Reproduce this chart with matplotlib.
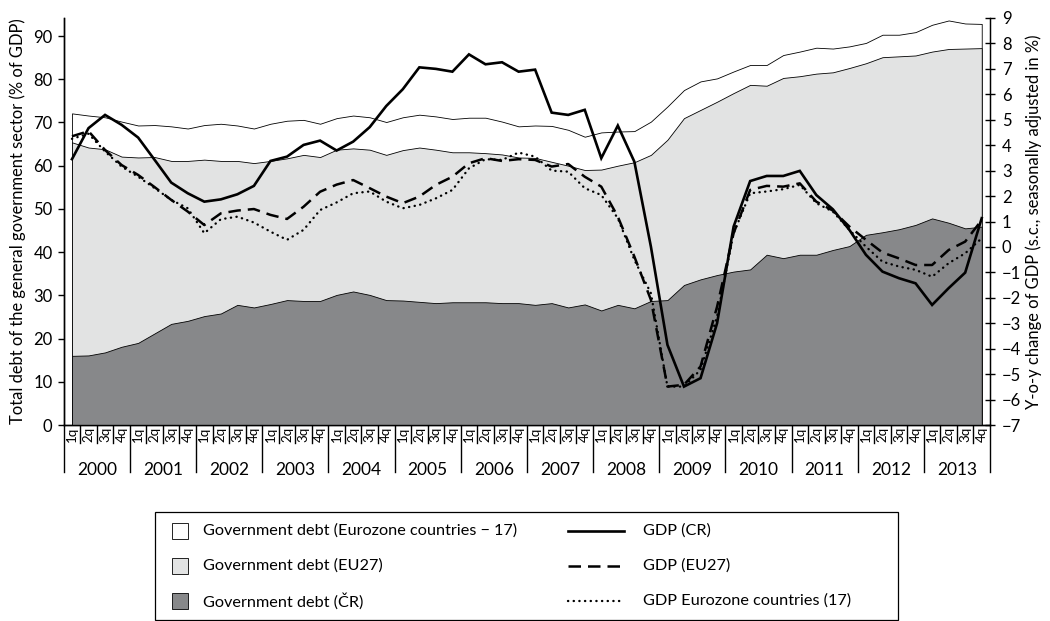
import matplotlib
matplotlib.use('Agg')
import matplotlib.pyplot as plt
from matplotlib.patches import Rectangle
import numpy as np

plt.rcParams['font.family'] = ['Lato', 'DejaVu Sans']

# ── data (2000Q1 .. 2013Q4) ──────────────────────────────────────────────────
years = [str(y) for y in range(2000, 2014)]
quarters = ['1q', '2q', '3q', '4q']

# government debt, % of GDP (left axis)
debt_ez = [72.1, 71.6, 71.2, 70.2, 69.3, 69.4, 69.1, 68.6, 69.4, 69.7, 69.3, 68.6, 69.7, 70.4, 70.6, 69.7,
           71.0, 71.6, 71.2, 70.1, 71.2, 71.8, 71.4, 70.8, 71.1, 71.1, 70.2, 69.1, 69.3, 69.2, 68.3, 66.7,
           67.7, 67.9, 68.0, 70.2, 73.7, 77.5, 79.5, 80.2, 81.8, 83.3, 83.3, 85.6, 86.4, 87.3, 87.1, 87.6,
           88.4, 90.3, 90.3, 90.9, 92.6, 93.6, 92.9, 92.8]
debt_eu = [65.4, 64.2, 63.8, 62.1, 61.9, 62.0, 61.1, 61.1, 61.4, 61.1, 61.1, 60.6, 61.1, 61.7, 62.5, 62.0,
           63.7, 64.0, 63.7, 62.5, 63.6, 64.2, 63.7, 63.1, 63.1, 62.9, 62.6, 61.9, 61.8, 60.9, 60.0, 59.0,
           59.1, 60.0, 60.8, 62.5, 66.0, 71.0, 72.9, 74.8, 76.8, 78.7, 78.5, 80.3, 80.7, 81.3, 81.6, 82.6,
           83.7, 85.1, 85.3, 85.5, 86.4, 87.0, 87.1, 87.2]
debt_cz = [16.0, 16.1, 16.8, 18.1, 19.0, 21.2, 23.4, 24.1, 25.2, 25.8, 27.8, 27.2, 28.0, 28.9, 28.7, 28.7,
           30.1, 30.9, 30.1, 28.9, 28.8, 28.5, 28.2, 28.4, 28.4, 28.4, 28.2, 28.2, 27.8, 28.2, 27.2, 27.9,
           26.5, 27.8, 27.0, 28.7, 28.9, 32.4, 33.7, 34.7, 35.5, 36.0, 39.4, 38.6, 39.4, 39.4, 40.5, 41.4,
           44.0, 44.6, 45.3, 46.3, 47.8, 46.8, 45.5, 45.9]

# y-o-y GDP change, % (right axis)
gdp_cz = [3.45, 4.67, 5.19, 4.80, 4.30, 3.42, 2.53, 2.11, 1.78, 1.87, 2.07, 2.40, 3.38, 3.55, 4.01, 4.18,
          3.79, 4.14, 4.71, 5.54, 6.20, 7.06, 7.00, 6.89, 7.57, 7.18, 7.26, 6.89, 6.97, 5.28, 5.19, 5.39,
          3.49, 4.77, 3.35, 0.01, -3.85, -5.49, -5.16, -3.00, 0.80, 2.59, 2.79, 2.79, 2.99, 2.04, 1.48, 0.67,
          -0.31, -0.97, -1.23, -1.43, -2.28, -1.62, -1.01, 1.13]
gdp_eu = [4.35, 4.55, 3.81, 3.22, 2.83, 2.35, 1.85, 1.39, 0.86, 1.32, 1.43, 1.49, 1.26, 1.10, 1.58, 2.17,
          2.45, 2.63, 2.31, 1.98, 1.72, 1.98, 2.44, 2.76, 3.29, 3.49, 3.38, 3.45, 3.42, 3.16, 3.26, 2.76,
          2.37, 1.19, -0.38, -2.08, -5.49, -5.42, -4.70, -2.35, 0.54, 2.24, 2.40, 2.37, 2.50, 1.78, 1.43, 0.80,
          0.28, -0.22, -0.45, -0.71, -0.71, -0.12, 0.21, 1.06]
gdp_ez = [4.25, 4.45, 3.75, 3.16, 2.76, 2.31, 1.85, 1.52, 0.54, 1.09, 1.19, 0.96, 0.60, 0.28, 0.67, 1.45,
          1.75, 2.11, 2.18, 1.78, 1.52, 1.65, 1.91, 2.24, 3.09, 3.45, 3.42, 3.71, 3.55, 3.00, 2.96, 2.31,
          2.04, 1.13, -0.51, -1.82, -5.49, -5.49, -4.83, -2.74, 0.54, 2.11, 2.18, 2.27, 2.44, 1.72, 1.39, 0.67,
          0.01, -0.58, -0.77, -0.90, -1.17, -0.64, -0.25, 0.34]

LEG_AREAS = ['Government debt (Eurozone countries \u2212 17)', 'Government debt (EU27)',
             'Government debt (\u010cR)']
LEG_LINES = ['GDP (CR)', 'GDP (EU27)', 'GDP Eurozone countries (17)']

# ── style ────────────────────────────────────────────────────────────────────
COL_EZ = 'white'
COL_EU = '#e2e3e3'
COL_CZ = '#87888a'
EDGE_LW = 0.6
TICK_FS = 12

x = np.arange(len(debt_cz))

fig = plt.figure(figsize=(10.5, 6.21), dpi=100)
ax = fig.add_axes([63.7 / 1050, 1 - 425 / 621, (990 - 63.7) / 1050, 407 / 621])
ax2 = ax.twinx()

# areas, drawn over one another (not stacked)
ax.fill_between(x, 0, debt_ez, facecolor=COL_EZ, edgecolor='black', lw=EDGE_LW, zorder=1)
ax.fill_between(x, 0, debt_eu, facecolor=COL_EU, edgecolor='black', lw=EDGE_LW, zorder=2)
ax.fill_between(x, 0, debt_cz, facecolor=COL_CZ, edgecolor='black', lw=EDGE_LW, zorder=3)

LINE_STYLES = [
    dict(color='black', lw=1.9, ls='-', solid_joinstyle='miter'),
    dict(color='black', lw=1.8, ls=(0, (5.0, 2.8))),
    dict(color='black', lw=1.7, ls=(0, (0.1, 2.3)), dash_capstyle='round'),
]
for vals, st in zip([gdp_cz, gdp_eu, gdp_ez], LINE_STYLES):
    ax2.plot(x, vals, zorder=5, **st)

ax.set_xlim(-0.5, len(x) - 0.5)
ax.set_ylim(0, 407 / 4.322)
ax.set_yticks(range(0, 100, 10))
ax2.set_ylim(-7, 9)
ax2.set_yticks(range(-7, 10))

ax.set_xticks([])
ax2.set_xticks([])
ax.spines['top'].set_visible(False)
ax2.spines['top'].set_visible(False)
for s in ['left', 'right', 'bottom']:
    ax2.spines[s].set_linewidth(1.0)
ax.spines['left'].set_linewidth(1.0)
ax.spines['bottom'].set_linewidth(1.0)

ax.tick_params(axis='y', direction='out', length=4, width=1.0, labelsize=TICK_FS, pad=4)
ax2.tick_params(axis='y', direction='inout', length=7, width=1.0, labelsize=TICK_FS, pad=5)

ax.set_ylabel('Total debt of the general government sector (% of GDP)', fontsize=11.9, labelpad=5)
ax2.set_ylabel('Y-o-y change of GDP (s.c., seasonally adjusted in %)', fontsize=11.9, labelpad=3)

# ── two-level category axis ─────────────────────────────────────────────────
H = 407.0
tr = ax.get_xaxis_transform()
q_bottom = -18 / H
y_bottom = -47 / H
for k in range(len(x) + 1):
    xb = k - 0.5
    low = y_bottom if k % 4 == 0 else q_bottom
    ax.plot([xb, xb], [0, low], color='black', lw=1.0, transform=tr, clip_on=False)
for i in x:
    ax.text(i, -9.5 / H, quarters[i % 4], transform=tr, rotation=90, ha='center', va='center',
            fontsize=9.5)
for j, yr in enumerate(years):
    ax.text(4 * j + 1.5, -45 / H, yr, transform=tr, ha='center', va='center', fontsize=12.5)

# ── legend box ───────────────────────────────────────────────────────────────
lax = fig.add_axes([0, 0, 1, 1], zorder=10)
lax.set_xlim(0, 1050)
lax.set_ylim(621, 0)
lax.axis('off')
lax.patch.set_alpha(0)
lax.add_patch(Rectangle((155, 512), 743, 108, facecolor='none', edgecolor='black', lw=0.9))
rows = [531, 566, 601]
for ry, lab, col in zip(rows, LEG_AREAS, [COL_EZ, COL_EU, COL_CZ]):
    lax.add_patch(Rectangle((172, ry - 8), 16, 16, facecolor=col, edgecolor='black', lw=0.6))
    lax.text(203, ry, lab, ha='left', va='center', fontsize=11.7)
for ry, lab, st in zip(rows, LEG_LINES, LINE_STYLES):
    lax.plot([568, 624], [ry, ry], **st)
    lax.text(643, ry, lab, ha='left', va='center', fontsize=11.7)

fig.savefig('out.png', dpi=100, facecolor='white')
